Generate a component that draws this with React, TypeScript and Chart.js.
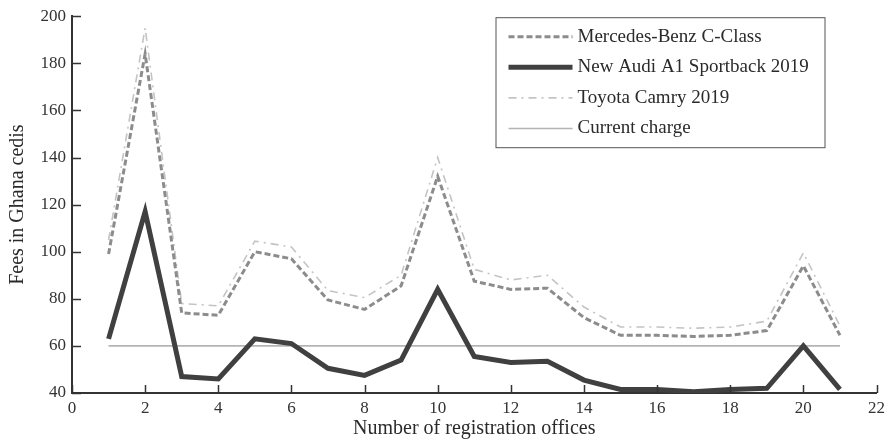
import React, { useEffect, useRef } from "react";
import { Chart, registerables } from "chart.js";

Chart.register(...registerables);

const offices = [1, 2, 3, 4, 5, 6, 7, 8, 9, 10, 11, 12, 13, 14, 15, 16, 17, 18, 19, 20, 21];
const mercedes = [99, 184, 74, 73, 100, 97, 79.5, 75.5, 85.5, 132, 87.5, 84, 84.5, 72, 64.5, 64.5, 64, 64.5, 66.5, 94, 64.5];
const audi = [63, 117, 47, 46, 63, 61, 50.5, 47.5, 54, 84, 55.5, 53, 53.5, 45.5, 41.5, 41.5, 40.5, 41.5, 42, 60, 41.5];
const toyota = [105, 195, 78, 77, 104.5, 102, 83.5, 80.5, 90, 140, 92.5, 88, 90, 76.5, 68, 68, 67.5, 68, 70.5, 99.5, 68.5];
const currentCharge = [60, 60, 60, 60, 60, 60, 60, 60, 60, 60, 60, 60, 60, 60, 60, 60, 60, 60, 60, 60, 60];

const seriesLabels = ["Mercedes-Benz C-Class", "New Audi A1 Sportback 2019", "Toyota Camry 2019", "Current charge"];
const xTitle = "Number of registration offices";
const yTitle = "Fees in Ghana cedis";

const FONT = "'Liberation Serif', 'DejaVu Serif', serif";

const toPoints = (vals: number[]) => offices.map((x, i) => ({ x, y: vals[i] }));

const styles = [
  { color: "#8c8c8c", width: 3, dash: [6, 3] },
  { color: "#404040", width: 5, dash: [] as number[] },
  { color: "#c4c4c4", width: 1.6, dash: [8, 5, 2, 5] },
  { color: "#b4b4b4", width: 1.6, dash: [] as number[] },
];

const inwardTicks = {
  id: "inwardTicks",
  afterDatasetsDraw(chart: any) {
    const { ctx, chartArea, scales } = chart;
    ctx.save();
    ctx.strokeStyle = "#333";
    ctx.lineWidth = 1.5;
    scales.x.ticks.forEach((t: any) => {
      const px = Math.round(scales.x.getPixelForValue(t.value)) + 0.5;
      ctx.beginPath();
      ctx.moveTo(px, chartArea.bottom);
      ctx.lineTo(px, chartArea.bottom - 8);
      ctx.stroke();
    });
    scales.y.ticks.forEach((t: any) => {
      const py = Math.round(scales.y.getPixelForValue(t.value)) + 0.5;
      ctx.beginPath();
      ctx.moveTo(chartArea.left, py);
      ctx.lineTo(chartArea.left + 9, py);
      ctx.stroke();
    });
    ctx.restore();
  },
};

const boxLegend = {
  id: "boxLegend",
  afterDraw(chart: any) {
    const { ctx, chartArea } = chart;
    const right = chartArea.right - 52;
    const left = right - 329;
    const top = chartArea.top + 1;
    const height = 130;
    ctx.save();
    ctx.fillStyle = "#ffffff";
    ctx.fillRect(left, top, right - left, height);
    ctx.strokeStyle = "#555";
    ctx.lineWidth = 1;
    ctx.strokeRect(left + 0.5, top + 0.5, right - left, height);
    ctx.font = `19px ${FONT}`;
    ctx.textBaseline = "middle";
    ctx.textAlign = "left";
    seriesLabels.forEach((label, i) => {
      const y = top + 19.5 + i * 30.6;
      const s = styles[i];
      ctx.strokeStyle = s.color;
      ctx.lineWidth = s.width;
      ctx.setLineDash(s.dash);
      ctx.beginPath();
      ctx.moveTo(left + 13, y);
      ctx.lineTo(left + 77, y);
      ctx.stroke();
      ctx.setLineDash([]);
      ctx.fillStyle = "#2a2a2a";
      ctx.fillText(label, left + 82, y);
    });
    ctx.restore();
  },
};

export default function App() {
  const ref = useRef<HTMLCanvasElement>(null);
  useEffect(() => {
    document.body.style.margin = "0";
    const canvas = ref.current;
    if (!canvas) return;
    const series = [mercedes, audi, toyota, currentCharge];
    const orders = [1, 0, 2, 3];
    const chart = new Chart(canvas, {
      type: "line",
      data: {
        datasets: series.map((vals, i) => ({
          label: seriesLabels[i],
          data: toPoints(vals),
          borderColor: styles[i].color,
          borderWidth: styles[i].width,
          borderDash: styles[i].dash,
          pointRadius: 0,
          tension: 0,
          fill: false,
          order: orders[i],
        })),
      },
      options: {
        responsive: false,
        animation: false,
        devicePixelRatio: 1,
        layout: { padding: { top: 16, right: 11, left: 0, bottom: 0 } },
        plugins: { legend: { display: false }, tooltip: { enabled: false } },
        scales: {
          x: {
            type: "linear",
            min: 0,
            max: 22,
            ticks: { stepSize: 2, font: { family: FONT, size: 17 }, color: "#333", padding: 5 },
            grid: { display: false, drawTicks: false },
            border: { color: "#333", width: 2 },
            title: { display: true, text: xTitle, font: { family: FONT, size: 20 }, color: "#2a2a2a", padding: { top: 0, bottom: 0 } },
            afterFit: (s: any) => { s.height = 48; },
          },
          y: {
            type: "linear",
            min: 40,
            max: 200,
            ticks: { stepSize: 20, font: { family: FONT, size: 17 }, color: "#333", padding: 6 },
            grid: { display: false, drawTicks: false },
            border: { color: "#333", width: 2 },
            title: { display: true, text: yTitle, font: { family: FONT, size: 20 }, color: "#2a2a2a", padding: { top: 6, bottom: 0 } },
            afterFit: (s: any) => { s.width = 72; },
          },
        },
      },
      plugins: [inwardTicks, boxLegend],
    });
    return () => chart.destroy();
  }, []);
  return <canvas ref={ref} width={890} height={441} style={{ display: "block", width: 890, height: 441 }} />;
}
